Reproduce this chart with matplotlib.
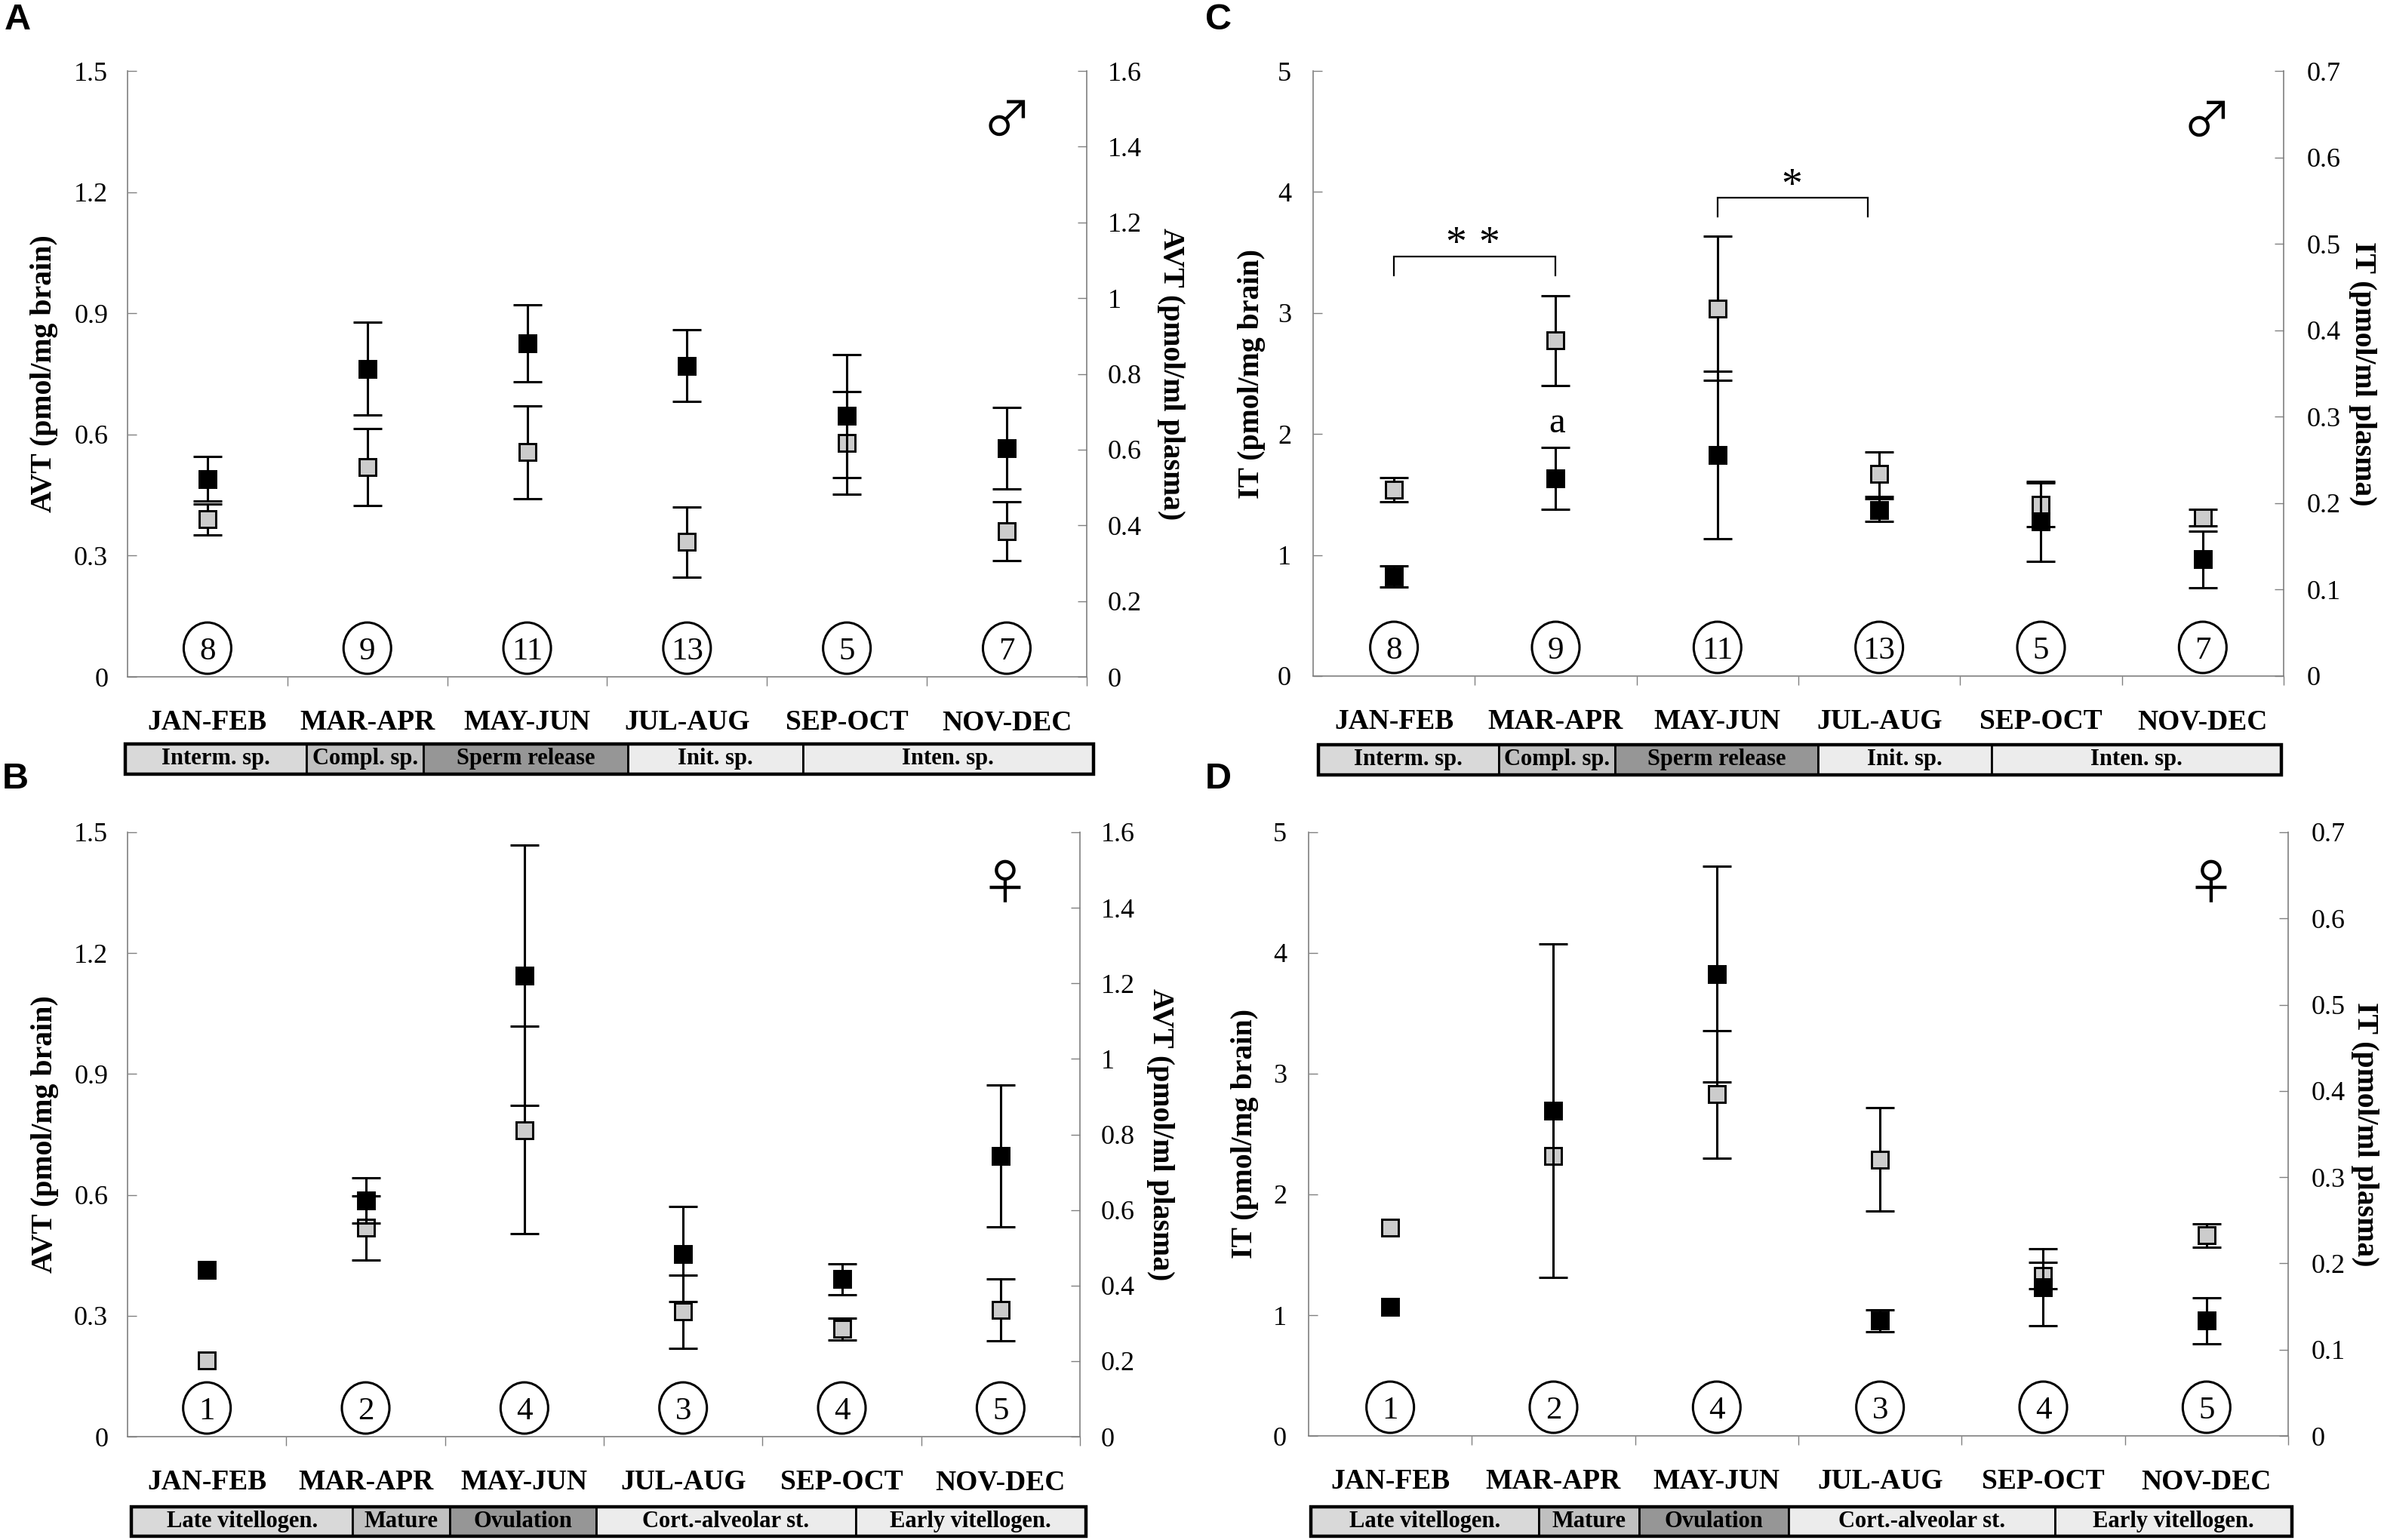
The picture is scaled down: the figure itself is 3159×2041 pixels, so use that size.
import matplotlib
matplotlib.use('Agg')
import matplotlib.pyplot as plt
import matplotlib.transforms as mtransforms
from matplotlib.patches import Ellipse, Rectangle
import numpy as np

plt.rcParams['font.family'] = ['Liberation Serif', 'DejaVu Sans']

# ---------------- data ----------------
months = ["JAN-FEB", "MAR-APR", "MAY-JUN", "JUL-AUG", "SEP-OCT", "NOV-DEC"]

# Panel A : AVT, males
avt_m_brain = [0.39, 0.52, 0.556, 0.334, 0.58, 0.361]
avt_m_brain_err = [0.038, 0.095, 0.115, 0.087, 0.127, 0.073]
avt_m_plasma = [0.523, 0.814, 0.881, 0.822, 0.689, 0.604]
avt_m_plasma_err = [0.059, 0.123, 0.101, 0.094, 0.162, 0.107]
n_male = [8, 9, 11, 13, 5, 7]

# Panel B : AVT, females
avt_f_brain = [0.19, 0.518, 0.761, 0.31, 0.267, 0.314]
avt_f_brain_err = [0.0, 0.08, 0.258, 0.09, 0.027, 0.077]
avt_f_plasma = [0.442, 0.626, 1.221, 0.484, 0.417, 0.743]
avt_f_plasma_err = [0.0, 0.06, 0.345, 0.126, 0.041, 0.187]
n_female = [1, 2, 4, 3, 4, 5]

# Panel C : IT, males
it_m_brain = [1.538, 2.773, 3.039, 1.669, 1.417, 1.308]
it_m_brain_err = [0.10, 0.37, 0.594, 0.183, 0.18, 0.07]
it_m_plasma = [0.1152, 0.2285, 0.2554, 0.1919, 0.1791, 0.135]
it_m_plasma_err = [0.0122, 0.036, 0.0969, 0.0133, 0.0462, 0.0329]

# Panel D : IT, females
it_f_brain = [1.722, 2.32, 2.83, 2.29, 1.328, 1.66]
it_f_brain_err = [0.0, 0.0, 0.527, 0.43, 0.11, 0.095]
it_f_plasma = [0.1498, 0.377, 0.5356, 0.1336, 0.1725, 0.1336]
it_f_plasma_err = [0.0, 0.1932, 0.1254, 0.0126, 0.0448, 0.0266]

# reproductive stages (fraction of the year strip)
male_stages = ["Interm. sp.", "Compl. sp.", "Sperm release", "Init. sp.", "Inten. sp."]
male_bounds = [0.0, 0.187, 0.308, 0.519, 0.6995, 1.0]
female_stages = ["Late vitellogen.", "Mature", "Ovulation", "Cort.-alveolar st.", "Early vitellogen."]
female_bounds = [0.0, 0.232, 0.334, 0.487, 0.7586, 1.0]
stage_colors = ['#d9d9d9', '#c0c0c0', '#969696', '#ececec', '#ececec']

# significance marks for panel C
sig_brackets = [(0, 1, 3.31, 3.469), (2, 2.93, 3.795, 3.953)]

# ---------------- drawing ----------------
fig = plt.figure(figsize=(15.795, 10.205), dpi=200)

AXIS_GREY = '#808080'


def fmt(v, _):
    return '%g' % round(v, 3)


def plot_series(a, x, y, err, face):
    x = np.asarray(x)
    y = np.asarray(y, dtype=float)
    err = np.asarray(err, dtype=float)
    has = err > 0
    a.errorbar(x[has], y[has], yerr=err[has], fmt='none', ecolor='black',
               elinewidth=1.1, capsize=7.0, capthick=1.1, zorder=3)
    a.plot(x, y, 's', ms=7.8, mfc=face, mec='black', mew=1.05, zorder=4)


def draw_panel(rect, band_rect, brain, brain_err, plasma, plasma_err,
               ylim_l, yticks_l, ylim_r, yticks_r, ylab_l, ylab_r,
               n, stages, bounds, symbol, sym_pos, lab_x, pads):
    ax = fig.add_axes(rect)
    ax2 = ax.twinx()
    x = np.arange(len(months))

    plot_series(ax, x, brain, brain_err, '#cccccc')
    plot_series(ax2, x, plasma, plasma_err, 'black')

    ax.set_xlim(-0.5, len(months) - 0.5)
    ax.set_ylim(*ylim_l)
    ax2.set_ylim(*ylim_r)
    ax.set_yticks(yticks_l)
    ax2.set_yticks(yticks_r)
    ax.yaxis.set_major_formatter(plt.FuncFormatter(fmt))
    ax2.yaxis.set_major_formatter(plt.FuncFormatter(fmt))

    ax.set_xticks(x)
    ax.set_xticklabels(months, fontsize=13.5, fontweight='bold')
    ax.set_xticks(np.arange(0.5, len(months), 1.0), minor=True)
    ax.tick_params(axis='x', which='major', length=0, pad=15.5)
    ax.tick_params(axis='x', which='minor', direction='out', length=4.3,
                   width=0.5, color=AXIS_GREY)
    ax.tick_params(axis='y', direction='in', length=4.2, width=0.5,
                   color=AXIS_GREY, labelsize=13, pad=pads[0])
    ax2.tick_params(axis='y', direction='in', length=4.2, width=0.5,
                    color=AXIS_GREY, labelsize=13, pad=pads[1])

    for a in (ax, ax2):
        a.spines['top'].set_visible(False)
        for s in a.spines.values():
            s.set_color(AXIS_GREY)
            s.set_linewidth(0.6)
    ax.spines['right'].set_visible(False)
    ax2.spines['left'].set_visible(False)
    ax2.spines['bottom'].set_visible(False)

    ax.set_ylabel(ylab_l, fontsize=14.3, fontweight='bold')
    ax.yaxis.label.set_va('center')
    ax.yaxis.set_label_coords(lab_x[0], 0.5)
    ax2.set_ylabel(ylab_r, fontsize=14.3, fontweight='bold', rotation=-90)
    ax2.yaxis.label.set_va('center')
    ax2.yaxis.set_label_coords(lab_x[1], 0.5)

    # circled sample sizes
    bl = mtransforms.blended_transform_factory(ax.transData, ax.transAxes)
    ax_h_px = rect[3] * fig.get_figheight() * fig.dpi
    ax_w_px = rect[2] * fig.get_figwidth() * fig.dpi
    cat_px = ax_w_px / len(months)
    e_w = 63.0 / cat_px
    e_h = 68.0 / ax_h_px
    e_y = 38.0 / ax_h_px
    num_tr = mtransforms.offset_copy(bl, fig=fig, y=-1.6, units='points')
    for i, v in enumerate(n):
        ax.add_patch(Ellipse((i, e_y), e_w, e_h, transform=bl, fill=False,
                             ec='black', lw=1.1, zorder=4, clip_on=False))
        ax.text(i, e_y, str(v), transform=num_tr, ha='center', va='center',
                fontsize=15.5, zorder=5)

    ax.text(sym_pos[0], sym_pos[1], symbol, transform=ax.transAxes, ha='center',
            va='center', fontsize=23, family=['Noto Sans CJK JP', 'DejaVu Sans'])

    # reproductive stage strip
    bax = fig.add_axes(band_rect)
    bax.set_xlim(0, 1)
    bax.set_ylim(0, 1)
    bax.axis('off')
    for k, name in enumerate(stages):
        x0, x1 = bounds[k], bounds[k + 1]
        bax.add_patch(Rectangle((x0, 0), x1 - x0, 1, fc=stage_colors[k],
                                ec='black', lw=1.0, clip_on=False))
        bax.text((x0 + x1) / 2, 0.5, name, ha='center', va='center',
                 fontsize=11, fontweight='bold')
    bax.add_patch(Rectangle((0, 0), 1, 1, fill=False, ec='black', lw=1.6,
                            clip_on=False))
    return ax, ax2


# Panel A
axA, axA2 = draw_panel([0.0535, 0.5605, 0.4023, 0.3934],
                       [0.05255, 0.4975, 0.4062, 0.0193],
                       avt_m_brain, avt_m_brain_err, avt_m_plasma, avt_m_plasma_err,
                       (0, 1.5), np.arange(0, 1.51, 0.3), (0, 1.6), np.arange(0, 1.61, 0.2),
                       'AVT (pmol/mg brain)', 'AVT (pmol/ml plasma)',
                       n_male, male_stages, male_bounds, '\u2642', (0.917, 0.916),
                       (-0.087, 1.088), (9.3, 10.0))

# Panel B
axB, axB2 = draw_panel([0.0535, 0.0671, 0.3995, 0.3925],
                       [0.05508, 0.00245, 0.4004, 0.0191],
                       avt_f_brain, avt_f_brain_err, avt_f_plasma, avt_f_plasma_err,
                       (0, 1.5), np.arange(0, 1.51, 0.3), (0, 1.6), np.arange(0, 1.61, 0.2),
                       'AVT (pmol/mg brain)', 'AVT (pmol/ml plasma)',
                       n_female, female_stages, female_bounds, '\u2640', (0.921, 0.911),
                       (-0.087, 1.084), (9.3, 10.0))

# Panel C
axC, axC2 = draw_panel([0.5508, 0.5610, 0.4071, 0.3929],
                       [0.5530, 0.4970, 0.4039, 0.0193],
                       it_m_brain, it_m_brain_err, it_m_plasma, it_m_plasma_err,
                       (0, 5), np.arange(0, 5.1, 1), (0, 0.7), np.arange(0, 0.71, 0.1),
                       'IT (pmol/mg brain)', 'IT (pmol/ml plasma)',
                       n_male, male_stages, male_bounds, '\u2642', (0.921, 0.915),
                       (-0.063, 1.081), (10.4, 11.0))

# Panel D
axD, axD2 = draw_panel([0.5489, 0.0676, 0.4109, 0.3920],
                       [0.5500, 0.00245, 0.4114, 0.0191],
                       it_f_brain, it_f_brain_err, it_f_plasma, it_f_plasma_err,
                       (0, 5), np.arange(0, 5.1, 1), (0, 0.7), np.arange(0, 0.71, 0.1),
                       'IT (pmol/mg brain)', 'IT (pmol/ml plasma)',
                       n_female, female_stages, female_bounds, '\u2640', (0.921, 0.911),
                       (-0.065, 1.078), (10.4, 11.0))

# significance brackets in panel C
for x0, x1, y0, y1 in sig_brackets:
    axC.plot([x0, x0, x1, x1], [y0, y1, y1, y0], color='black', lw=0.8,
             zorder=3, solid_joinstyle='miter')
star_tr = mtransforms.offset_copy(axC.transData, fig=fig, y=-4.5, units='points')
for sx in (0.382, 0.588):
    axC.text(sx, 3.636, '*', transform=star_tr, ha='center', va='center', fontsize=20)
axC.text(2.46, 4.12, '*', transform=star_tr, ha='center', va='center', fontsize=20)
axC.text(1.007, 2.09, 'a', ha='center', va='center', fontsize=17.5)

# panel letters
for letter, (lx, ly) in zip('ABCD', [(0.0073, 0.987), (0.0063, 0.494),
                                      (0.511, 0.987), (0.511, 0.494)]):
    fig.text(lx, ly, letter, ha='center', va='center', fontsize=17.5,
             fontweight='bold', family='Liberation Sans')

fig.savefig('out.png', dpi=200)
